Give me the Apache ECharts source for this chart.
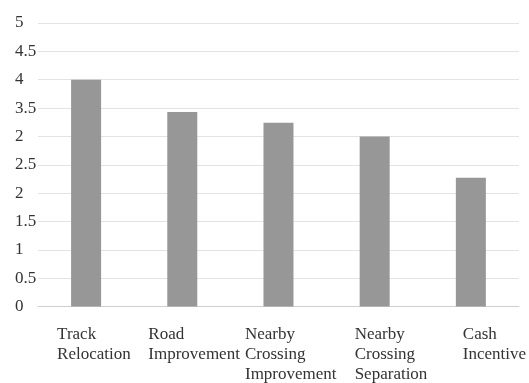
<!DOCTYPE html>
<html>
<head>
<meta charset="utf-8">
<script src="https://cdn.jsdelivr.net/npm/echarts@6/dist/echarts.min.js"></script>
<style>
  html, body { margin: 0; padding: 0; background: #fff; }
  #chart { width: 529px; height: 383px; }
</style>
</head>
<body>
<div id="chart"></div>
<script>
const categories = [
  'Track\nRelocation',
  'Road\nImprovement',
  'Nearby\nCrossing\nImprovement',
  'Nearby\nCrossing\nSeparation',
  'Cash\nIncentive'
];
const values = [4.0, 3.43, 3.24, 3.0, 2.27];
// tick labels as printed in the source (the "3" tick is printed as "2")
const tickLabels = ['0', '0.5', '1', '1.5', '2', '2.5', '2', '3.5', '4', '4.5', '5'];

const chart = echarts.init(document.getElementById('chart'));

const serif = 'Liberation Serif';

// left indent of each category label block (label starts left of the bar centre)
const labelIndent = [58, 68, 67, 40, 16];
const rich = {};
labelIndent.forEach((w, i) => {
  rich['c' + i] = { width: w, align: 'left', fontFamily: serif, fontSize: 17, lineHeight: 20, color: '#333' };
});

const option = {
  animation: false,
  grid: { left: 38, right: 9, top: 23, bottom: 76 },
  xAxis: {
    type: 'category',
    data: categories,
    axisTick: { show: false },
    axisLine: { lineStyle: { color: '#cfcfcf', width: 1 } },
    axisLabel: {
      interval: 0,
      margin: 18,
      verticalAlign: 'top',
      fontFamily: serif,
      formatter: (value, index) => value.split('\n').map((l) => '{c' + index + '|' + l + '}').join('\n'),
      rich: rich
    }
  },
  yAxis: {
    type: 'value',
    min: 0,
    max: 5,
    interval: 0.5,
    axisLine: { show: false },
    axisTick: { show: false },
    splitLine: { lineStyle: { color: '#e3e3e3', width: 1 } },
    axisLabel: {
      align: 'left',
      margin: 23,
      fontFamily: serif,
      fontSize: 17,
      color: '#333',
      formatter: (v) => tickLabels[Math.round(v / 0.5)]
    }
  },
  series: [
    {
      type: 'bar',
      data: values,
      barWidth: 30,
      itemStyle: { color: '#979797' }
    }
  ]
};
chart.setOption(option);
</script>
</body>
</html>
